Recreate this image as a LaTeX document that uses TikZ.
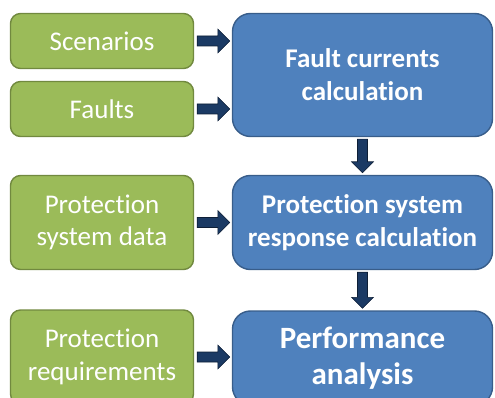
\documentclass[tikz,border=0pt]{standalone}
\usepackage{fontspec}
\setmainfont[Ligatures=NoCommon]{Carlito}
\usetikzlibrary{calc}
\definecolor{inputfill}{HTML}{9BBB59}
\definecolor{inputline}{HTML}{71893F}
\definecolor{stagefill}{HTML}{4F81BD}
\definecolor{stageline}{HTML}{385D8A}
\definecolor{arrowfill}{HTML}{1B3A64}
\definecolor{arrowline}{HTML}{0E1F36}
\tikzset{
  inputbox/.style={draw=inputline, fill=inputfill, line width=1.4pt,
    rounded corners=10pt, minimum width=183pt, align=center,
    text=white, font=\fontsize{27}{32.5}\selectfont, inner sep=0pt},
  stagebox/.style={draw=stageline, fill=stagefill, line width=1.4pt,
    rounded corners=18pt, minimum width=260pt, align=center,
    text=white, font=\bfseries\fontsize{27}{33}\selectfont, inner sep=0pt},
  blockarrow/.style={fill=arrowfill, draw=arrowline, line width=0.6pt, line join=miter},
}
% block arrow pointing right, from the east side of #1 to the west side of #2
\newcommand\rightblock[2]{%
  \draw[blockarrow] let \p1=(#1.east), \p2=(#2.west) in
    (\x1+3pt,\y1-5pt) -- (\x2-14pt,\y1-5pt) -- (\x2-14pt,\y1-12pt)
    -- (\x2-2pt,\y1) -- (\x2-14pt,\y1+12pt) -- (\x2-14pt,\y1+5pt)
    -- (\x1+3pt,\y1+5pt) -- cycle;}
% block arrow pointing down, from the south side of #1 to the north side of #2
\newcommand\downblock[2]{%
  \draw[blockarrow] let \p1=(#1.south), \p2=(#2.north) in
    (\x1-5pt,\y1-2pt) -- (\x1-5pt,\y2+13pt) -- (\x1-11pt,\y2+13pt)
    -- (\x1,\y2+2pt) -- (\x1+11pt,\y2+13pt) -- (\x1+5pt,\y2+13pt)
    -- (\x1+5pt,\y1-2pt) -- cycle;}
\begin{document}
\begin{tikzpicture}[x=1pt,y=-1pt]
  \useasboundingbox (0,0) rectangle (495,398);
  \clip (0,0) rectangle (495,398);

  % inputs
  \node[inputbox, minimum height=55pt] (scen) at (102,41) {Scenarios};
  \node[inputbox, minimum height=55pt] (faults) at (102,109) {Faults};
  \node[inputbox, minimum height=94pt] (psdata) at (102,222.5) {Protection\\system data};
  \node[inputbox, minimum height=94pt] (preq) at (102,357) {Protection\\requirements};

  % calculation stages
  \node[stagebox, minimum height=123pt] (fcc) at (362.5,75) {Fault currents\\calculation};
  \node[stagebox, minimum height=94pt] (psr) at (362.5,222.5) {Protection system\\response calculation};
  \node[stagebox, minimum height=94pt, font=\bfseries\fontsize{31}{36}\selectfont] (perf) at (362.5,358) {Performance\\analysis};

  % arrows into the stages
  \rightblock{scen}{fcc}
  \rightblock{faults}{fcc}
  \rightblock{psdata}{psr}
  \rightblock{preq}{perf}

  % arrows between the stages
  \downblock{fcc}{psr}
  \downblock{psr}{perf}
\end{tikzpicture}
\end{document}
